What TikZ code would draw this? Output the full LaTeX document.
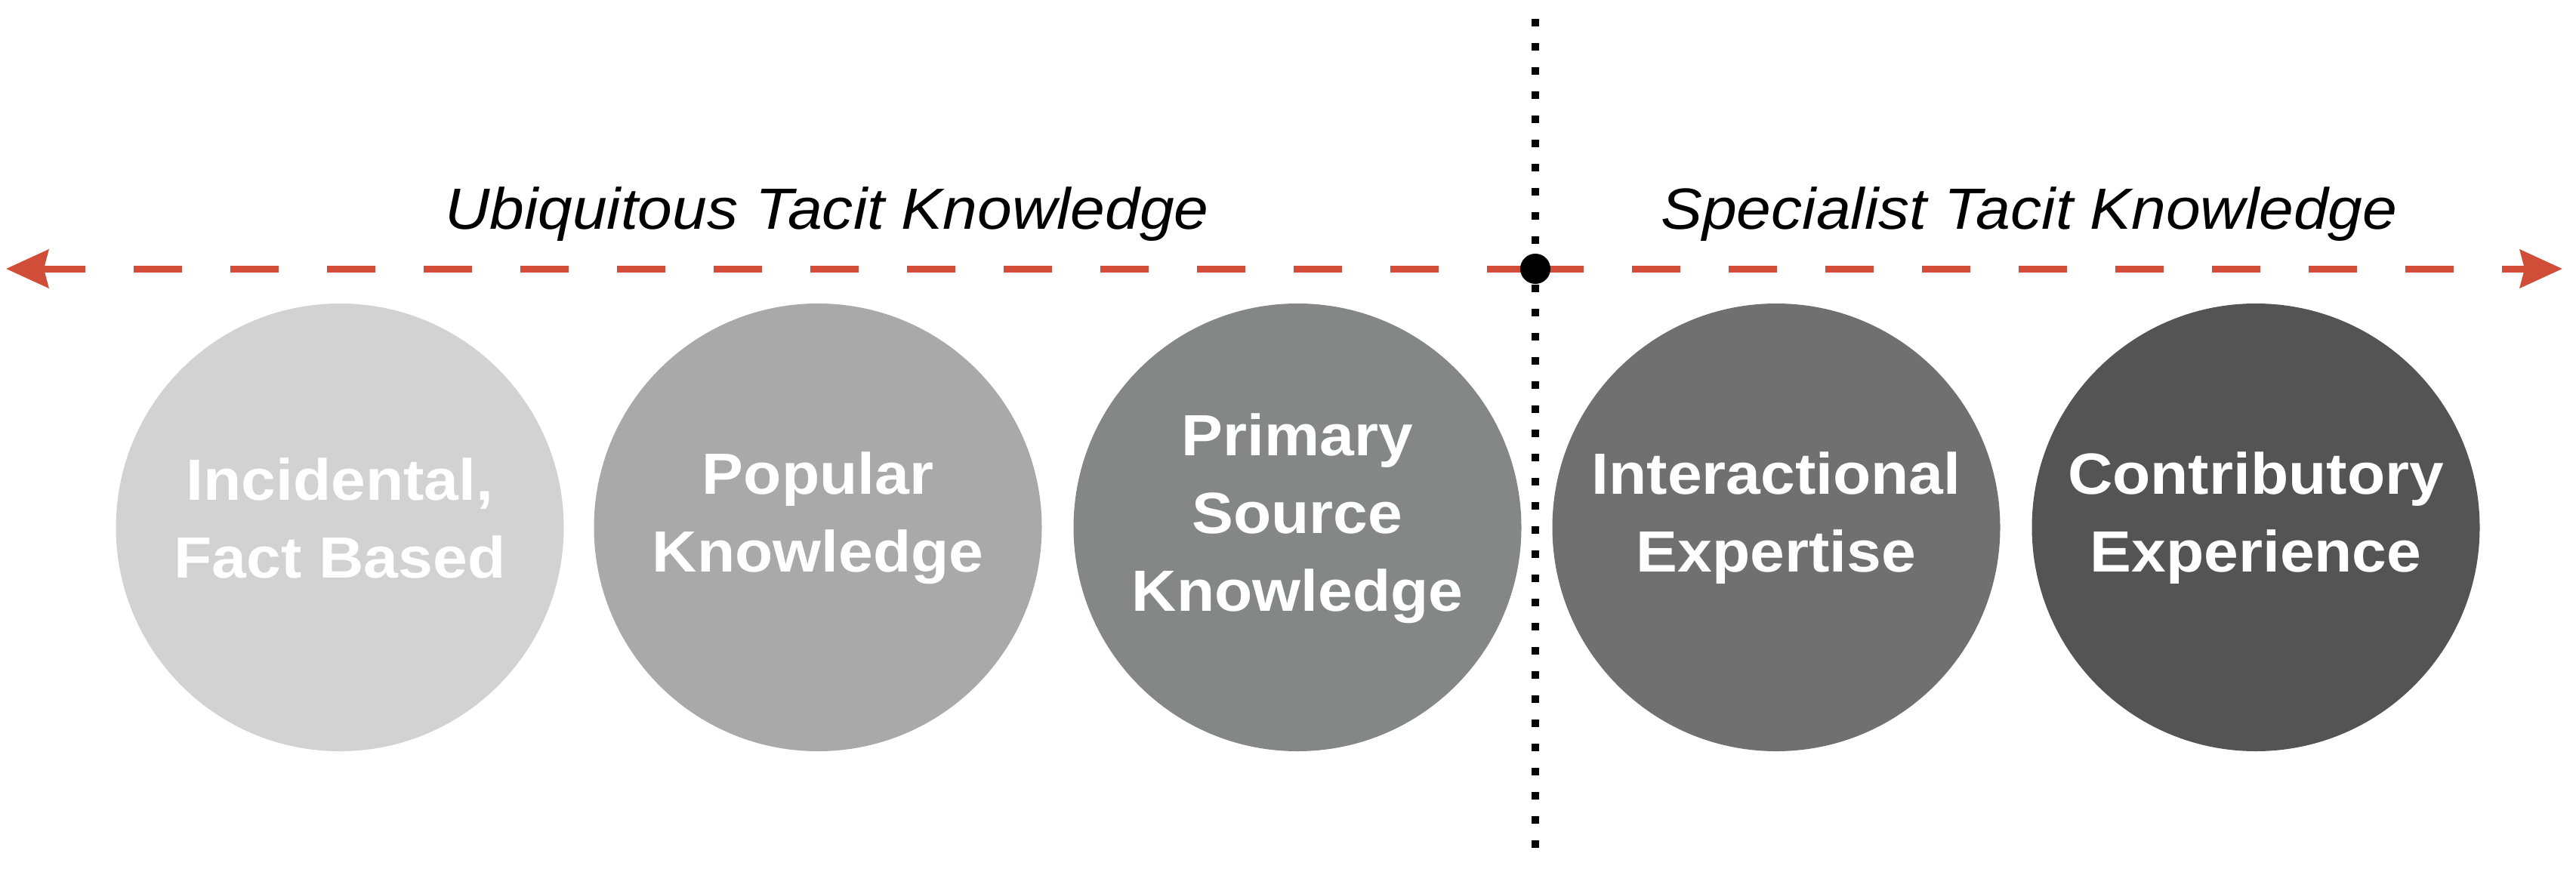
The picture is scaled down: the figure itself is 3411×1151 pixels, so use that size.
\documentclass[tikz,border=0pt]{standalone}
\usepackage{fontspec}
\setmainfont[FakeStretch=1.068]{Liberation Sans}
\usetikzlibrary{arrows.meta}
\definecolor{arrowred}{RGB}{208,78,56}
\definecolor{g1}{RGB}{210,210,210}
\definecolor{g2}{RGB}{169,169,169}
\definecolor{g3}{RGB}{133,134,134}
\definecolor{g4}{RGB}{112,112,112}
\definecolor{g5}{RGB}{84,84,84}
\begin{document}
\begin{tikzpicture}[x=0.5pt,y=-0.5pt,
  bubble/.style={circle, minimum size=296.5pt, inner sep=0pt, draw=none},
  bubbletext/.style={text=white, font=\bfseries\fontsize{38.5}{51.5}\selectfont, align=center, inner sep=0pt},
  header/.style={font=\itshape\fontsize{38.5}{46}\selectfont, anchor=base, inner sep=0pt},
  axis/.style={draw=arrowred, line width=4.5pt, dash pattern=on 32pt off 32pt, -{Stealth[length=28pt,width=25pt,inset=3pt]}},
  divider/.style={draw=black, line width=5pt, dash pattern=on 5pt off 11pt},
  centerdot/.style={circle, fill=black, minimum size=20pt, inner sep=0pt}]
\useasboundingbox (0,0) rectangle (3411,1151);

% circles
\node[bubble, fill=g1] (c1) at (450,698.5) {};
\node[bubble, fill=g2] (c2) at (1083,698.5) {};
\node[bubble, fill=g3] (c3) at (1718,698.5) {};
\node[bubble, fill=g4] (c4) at (2352,698.5) {};
\node[bubble, fill=g5] (c5) at (2987,698.5) {};

\node[bubbletext] (t1) at ([yshift=6pt]c1.center) {Incidental,\\Fact Based};
\node[bubbletext] (t2) at ([yshift=6pt]c2.center) {Popular\\Knowledge};
\node[bubbletext] (t3) at ([yshift=6pt]c3.center) {Primary\\Source\\Knowledge};
\node[bubbletext] (t4) at ([yshift=6pt]c4.center) {Interactional\\Expertise};
\node[bubbletext] (t5) at ([yshift=6pt]c5.center) {Contributory\\Experience};

% divider
\coordinate (dtop) at (2033,25);
\coordinate (dbot) at (2033,1126);
\draw[divider] (dtop) -- (dbot);

% axis
\coordinate (m) at (2033,356);
\coordinate (ltip) at (8,356);
\coordinate (rtip) at (3393,356);
\draw[axis] (m) -- (ltip);
\draw[axis] (m) -- (rtip);
\node[centerdot] (mid) at (m) {};

% headers
\node[header] (ubi) at (1095,303) {Ubiquitous Tacit Knowledge};
\node[header] (spec) at (2687,303) {Specialist Tacit Knowledge};
\end{tikzpicture}
\end{document}
